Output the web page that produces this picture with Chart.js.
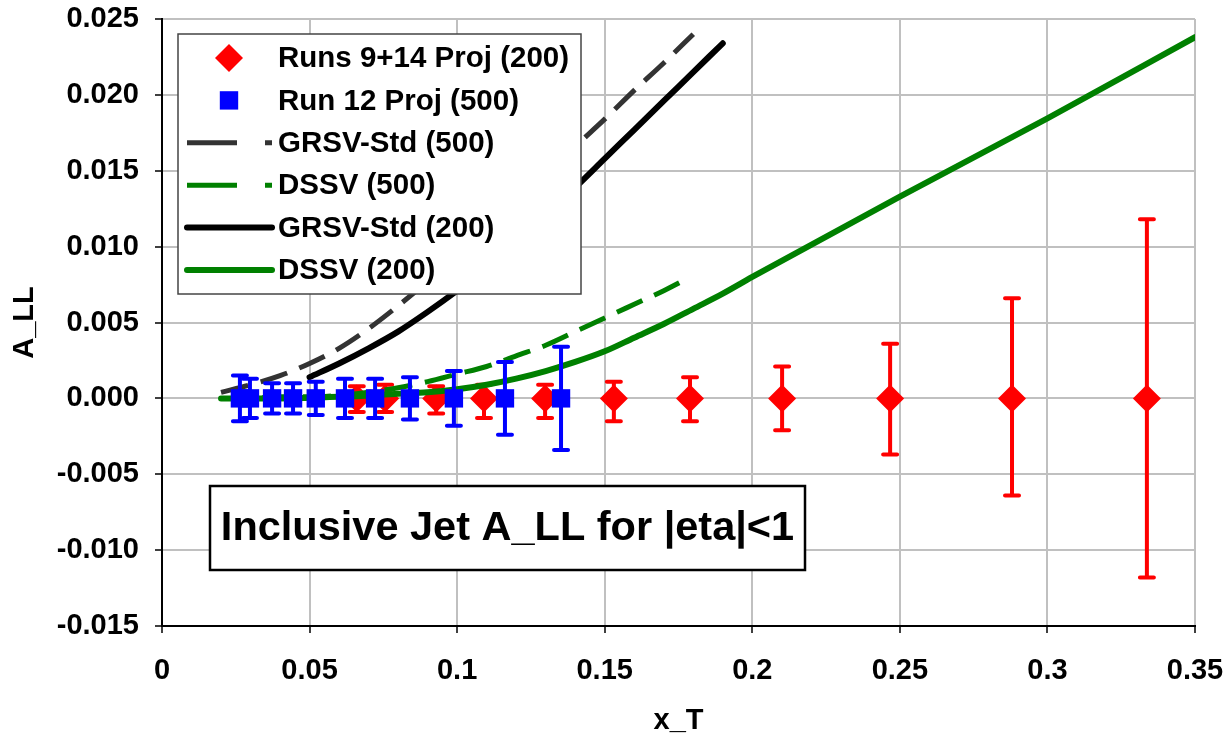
<!DOCTYPE html>
<html>
<head>
<meta charset="utf-8">
<script src="https://cdn.jsdelivr.net/npm/chart.js@4.4.1/dist/chart.umd.min.js"></script>
<style>
html,body{margin:0;padding:0;background:#fff;}
#wrap{width:1226px;height:737px;position:relative;}
</style>
</head>
<body>
<div id="wrap"><canvas id="c" width="1226" height="737"></canvas></div>
<script>
// ---------- data ----------
const xTickLabels = ['0', '0.05', '0.1', '0.15', '0.2', '0.25', '0.3', '0.35'];
const yTickLabels = ['-0.015', '-0.010', '-0.005', '0.000', '0.005', '0.010', '0.015', '0.020', '0.025'];

const seriesNames = ['Runs 9+14 Proj (200)', 'Run 12 Proj (500)', 'GRSV-Std (500)', 'DSSV (500)', 'GRSV-Std (200)', 'DSSV (200)'];

const redX = [0.066, 0.0756, 0.0929, 0.1091, 0.1298, 0.1531, 0.1789, 0.2101, 0.2467, 0.2880, 0.3337];
const redY = [0, 0, 0, 0, 0, 0, 0, 0, 0, 0, 0];
const redErrPlus = [0.0008, 0.0009, 0.0008, 0.0009, 0.0009, 0.0011, 0.0014, 0.0021, 0.0036, 0.0066, 0.0118];
const redErrMinus = [0.0009, 0.0009, 0.0010, 0.0013, 0.0013, 0.0015, 0.0015, 0.0021, 0.0037, 0.0064, 0.0118];

const blueX = [0.0264, 0.0298, 0.0373, 0.0444, 0.0521, 0.0620, 0.0722, 0.0840, 0.0989, 0.1162, 0.1352];
const blueY = [0, 0, 0, 0, 0, 0, 0, 0, 0, 0, 0];
const blueErr = [0.0015, 0.0013, 0.0010, 0.0010, 0.0011, 0.0013, 0.0013, 0.0014, 0.0018, 0.0024, 0.0034];

const grsv500X = [0.02, 0.03, 0.04, 0.05, 0.06, 0.07, 0.08, 0.09, 0.10, 0.11, 0.12, 0.13, 0.14, 0.15, 0.16, 0.17, 0.18];
const grsv500Y = [0.0004, 0.0009, 0.0015, 0.0023, 0.0033, 0.0046, 0.0061, 0.0077, 0.0094, 0.0111, 0.0129, 0.0147, 0.0166, 0.0184, 0.0203, 0.0221, 0.0240];

const dssv500X = [0.02, 0.03, 0.04, 0.05, 0.06, 0.07, 0.08, 0.09, 0.10, 0.11, 0.12, 0.13, 0.14, 0.15, 0.16, 0.17, 0.178];
const dssv500Y = [0.0000, 0.0000, 0.0001, 0.0001, 0.0002, 0.0004, 0.0007, 0.0011, 0.0016, 0.0021, 0.0028, 0.0035, 0.0044, 0.0053, 0.0062, 0.0071, 0.0079];

const grsv200X = [0.05, 0.06, 0.07, 0.08, 0.09, 0.10, 0.11, 0.12, 0.13, 0.14, 0.15, 0.16, 0.17, 0.18, 0.19];
const grsv200Y = [0.0014, 0.0023, 0.0033, 0.0044, 0.0057, 0.0071, 0.0086, 0.0103, 0.0121, 0.0139, 0.0158, 0.0177, 0.0196, 0.0215, 0.0234];

const dssv200X = [0.02, 0.04, 0.06, 0.08, 0.09, 0.10, 0.11, 0.12, 0.13, 0.14, 0.15, 0.16, 0.17, 0.18, 0.19, 0.20, 0.25, 0.30, 0.35];
const dssv200Y = [0.0000, 0.0000, 0.0001, 0.0003, 0.0004, 0.0006, 0.0009, 0.0013, 0.0018, 0.0024, 0.0031, 0.0040, 0.0049, 0.0059, 0.0069, 0.0080, 0.0133, 0.01845, 0.0238];

const boxTitle = 'Inclusive Jet A_LL for |eta|<1';
const xTitle = 'x_T';
const yTitle = 'A_LL';

// ---------- helpers ----------
const pts = (xs, ys) => xs.map((x, i) => ({ x: x, y: ys[i] }));
const FONT = '"Liberation Sans", Arial, Helvetica, sans-serif';

const errorBars = {
  id: 'errorBars',
  beforeDatasetDraw(chart, args) {
    const ds = chart.data.datasets[args.index];
    if (!ds.errPlus) return;
    const xs = chart.scales.x, ys = chart.scales.y, ctx = chart.ctx;
    ctx.save();
    ctx.strokeStyle = ds.borderColor;
    ctx.lineWidth = 4;
    ctx.lineCap = 'round';
    ds.data.forEach((p, i) => {
      const px = xs.getPixelForValue(p.x);
      const top = ys.getPixelForValue(p.y + ds.errPlus[i]);
      const bot = ys.getPixelForValue(p.y - ds.errMinus[i]);
      ctx.beginPath();
      ctx.moveTo(px, top); ctx.lineTo(px, bot);
      ctx.moveTo(px - 7, top); ctx.lineTo(px + 7, top);
      ctx.moveTo(px - 7, bot); ctx.lineTo(px + 7, bot);
      ctx.stroke();
    });
    ctx.restore();
  }
};

const boxLegend = {
  id: 'boxLegend',
  afterDatasetsDraw(chart) {
    const ctx = chart.ctx, a = chart.chartArea;
    const L = a.left + 16, T = a.top + 15, W = 403, H = 260;
    ctx.save();
    ctx.fillStyle = '#fff';
    ctx.fillRect(L, T, W, H);
    ctx.strokeStyle = '#444';
    ctx.lineWidth = 1.5;
    ctx.strokeRect(L, T, W, H);
    chart.data.datasets.forEach((ds, i) => {
      const y = T + 24 + i * 42.4;
      if (ds.showLine) {
        const dashed = ds.borderDash && ds.borderDash.length;
        ctx.beginPath();
        ctx.strokeStyle = ds.borderColor;
        ctx.lineWidth = ds.borderWidth;
        ctx.lineCap = dashed ? 'butt' : 'round';
        ctx.setLineDash(dashed ? [50, 28] : []);
        ctx.moveTo(L + 9, y);
        ctx.lineTo(L + 94, y);
        ctx.stroke();
        ctx.setLineDash([]);
      } else {
        ctx.fillStyle = ds.backgroundColor;
        ctx.strokeStyle = ds.borderColor;
        Chart.helpers.drawPoint(ctx, { pointStyle: ds.pointStyle, radius: ds.pointRadius, borderWidth: 0, rotation: 0 }, L + 51, y);
      }
      ctx.fillStyle = '#000';
      ctx.font = 'bold 29.5px ' + FONT;
      ctx.textBaseline = 'middle';
      ctx.textAlign = 'left';
      ctx.fillText(ds.label, L + 100, y + 1);
    });
    ctx.restore();
  },
  afterDraw(chart) {
    const ctx = chart.ctx, a = chart.chartArea;
    const L = a.left + 48, T = a.top + 467, W = 595, H = 84;
    ctx.save();
    ctx.fillStyle = '#fff';
    ctx.fillRect(L, T, W, H);
    ctx.strokeStyle = '#000';
    ctx.lineWidth = 2.5;
    ctx.strokeRect(L, T, W, H);
    ctx.fillStyle = '#000';
    ctx.font = 'bold 41.5px ' + FONT;
    ctx.textAlign = 'center';
    ctx.textBaseline = 'middle';
    ctx.fillText(boxTitle, L + W / 2, T + H / 2 + 1);
    ctx.restore();
  }
};

Chart.defaults.font.family = FONT;
Chart.defaults.font.weight = 'bold';
Chart.defaults.color = '#000';

new Chart(document.getElementById('c'), {
  type: 'scatter',
  data: {
    datasets: [
      {
        label: seriesNames[0], data: pts(redX, redY), errPlus: redErrPlus, errMinus: redErrMinus,
        showLine: false, pointStyle: 'rectRot', pointRadius: 14, pointHoverRadius: 14,
        backgroundColor: '#ff0000', borderColor: '#ff0000', borderWidth: 0, order: 10
      },
      {
        label: seriesNames[1], data: pts(blueX, blueY), errPlus: blueErr, errMinus: blueErr,
        showLine: false, pointStyle: 'rect', pointRadius: 13, pointHoverRadius: 13,
        backgroundColor: '#0000ff', borderColor: '#0000ff', borderWidth: 0, order: 0
      },
      {
        label: seriesNames[2], data: pts(grsv500X, grsv500Y), showLine: true, pointRadius: 0,
        borderColor: '#333333', backgroundColor: '#333333', borderWidth: 5, borderDash: [28, 13],
        cubicInterpolationMode: 'monotone', borderCapStyle: 'butt', order: 5
      },
      {
        label: seriesNames[3], data: pts(dssv500X, dssv500Y), showLine: true, pointRadius: 0,
        borderColor: '#008000', backgroundColor: '#008000', borderWidth: 5, borderDash: [28, 13],
        cubicInterpolationMode: 'monotone', borderCapStyle: 'butt', order: 4
      },
      {
        label: seriesNames[4], data: pts(grsv200X, grsv200Y), showLine: true, pointRadius: 0,
        borderColor: '#000000', backgroundColor: '#000000', borderWidth: 6,
        cubicInterpolationMode: 'monotone', borderCapStyle: 'round', order: 3
      },
      {
        label: seriesNames[5], data: pts(dssv200X, dssv200Y), showLine: true, pointRadius: 0,
        borderColor: '#008000', backgroundColor: '#008000', borderWidth: 6,
        cubicInterpolationMode: 'monotone', borderCapStyle: 'round', order: 2
      }
    ]
  },
  options: {
    responsive: false,
    animation: false,
    devicePixelRatio: 1,
    layout: { padding: { top: 19, right: 31, left: 0, bottom: 0 } },
    plugins: { legend: { display: false }, tooltip: { enabled: false } },
    scales: {
      x: {
        type: 'linear', min: 0, max: 0.35,
        afterFit(s) { s.height = 111; s.paddingLeft = 0; s.paddingRight = 0; s.paddingTop = 0; s.paddingBottom = 0; },
        ticks: {
          stepSize: 0.05, autoSkip: false, maxRotation: 0, padding: 21,
          font: { size: 29, weight: 'bold' }, color: '#000',
          callback: (v, i) => xTickLabels[i]
        },
        grid: { color: '#c0c0c0', lineWidth: 2, tickColor: '#000', tickLength: 7, tickWidth: 1.5 },
        border: { display: true, color: '#000', width: 2 },
        title: { display: true, text: xTitle, font: { size: 29, weight: 'bold', lineHeight: 1.1 }, padding: 0, color: '#000' }
      },
      y: {
        type: 'linear', min: -0.015, max: 0.025,
        afterFit(s) { s.width = 162; s.paddingLeft = 0; s.paddingRight = 0; s.paddingTop = 0; s.paddingBottom = 0; },
        ticks: {
          stepSize: 0.005, padding: 16,
          font: { size: 29, weight: 'bold' }, color: '#000',
          callback: (v, i) => yTickLabels[i]
        },
        grid: { color: '#c0c0c0', lineWidth: 2, tickColor: '#000', tickLength: 7, tickWidth: 1.5 },
        border: { display: true, color: '#000', width: 2 },
        title: { display: true, text: yTitle, font: { size: 29, weight: 'bold', lineHeight: 1.2 }, padding: { top: 8, bottom: 0 }, color: '#000' }
      }
    }
  },
  plugins: [errorBars, boxLegend]
});
</script>
</body>
</html>
